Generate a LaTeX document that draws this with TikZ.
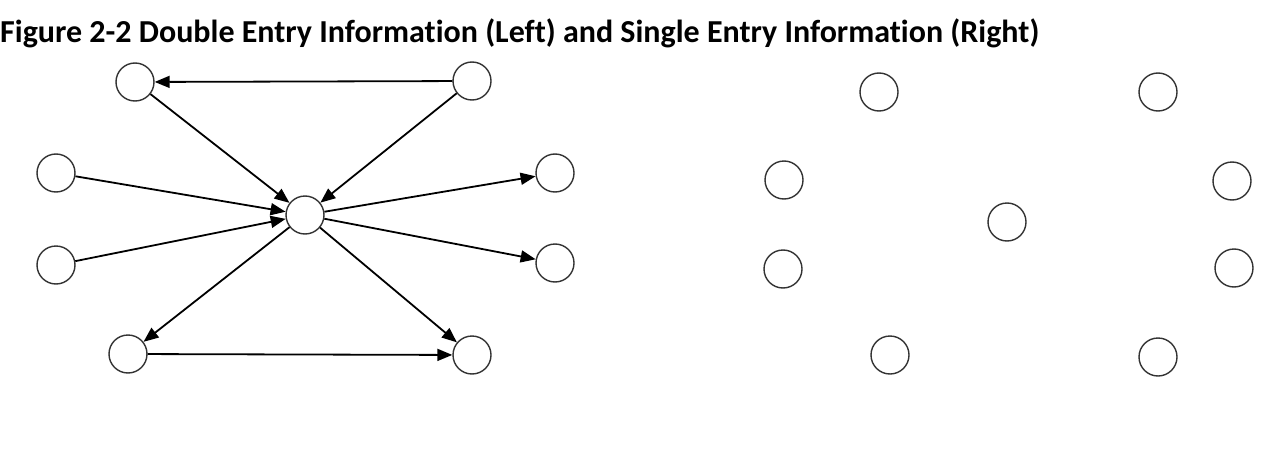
\documentclass[tikz,border=0pt]{standalone}
\usepackage{fontspec}
\setmainfont[Ligatures=NoCommon]{Carlito}
\usepackage{tikz}
\usetikzlibrary{arrows.meta}

\begin{document}
\begin{tikzpicture}[
    x=1pt, y=-1pt,
    entry/.style={draw=black!80, circle, line width=1.4pt, minimum size=38pt, inner sep=0pt},
    arr/.style={-{Triangle[length=15pt,width=12pt]}, line width=1.8pt, #1},
    arr/.default={black},
    title/.style={font=\fontsize{32}{36}\selectfont\bfseries, inner sep=0pt},
]
\useasboundingbox (0,0) rectangle (1270,471);

\node[title, anchor=base west] (figtitle) at (0,42) {Figure 2-2 Double Entry Information (Left) and Single Entry Information (Right)};

% ===== DOUBLE ENTRY (LEFT) =====
\node[entry] (dtopleft) at (135,82) {};
\node[entry] (dtopright) at (472,81) {};
\node[entry] (dleftup) at (56,173) {};
\node[entry] (dleftdown) at (56,265) {};
\node[entry] (dhub) at (305,215) {};
\node[entry] (drightup) at (555,173) {};
\node[entry] (drightdown) at (555,263) {};
\node[entry] (dbotleft) at (128,354) {};
\node[entry] (dbotright) at (472,355) {};

% ===== SINGLE ENTRY (RIGHT) =====
\node[entry] (stopleft) at (879,92) {};
\node[entry] (stopright) at (1158,92) {};
\node[entry] (sleftup) at (784,180) {};
\node[entry] (sleftdown) at (783,269) {};
\node[entry] (shub) at (1007,222) {};
\node[entry] (srightup) at (1232,181) {};
\node[entry] (srightdown) at (1234,268) {};
\node[entry] (sbotleft) at (890,355) {};
\node[entry] (sbotright) at (1158,357) {};

% ===== ARROWS =====
\draw[arr] (dtopright) -- (dtopleft);
\draw[arr] (dtopleft) -- (dhub);
\draw[arr] (dtopright) -- (dhub);
\draw[arr] (dleftup) -- (dhub);
\draw[arr] (dleftdown) -- (dhub);
\draw[arr] (dhub) -- (drightup);
\draw[arr] (dhub) -- (drightdown);
\draw[arr] (dhub) -- (dbotleft);
\draw[arr] (dhub) -- (dbotright);
\draw[arr] (dbotleft) -- (dbotright);

\end{tikzpicture}
\end{document}
